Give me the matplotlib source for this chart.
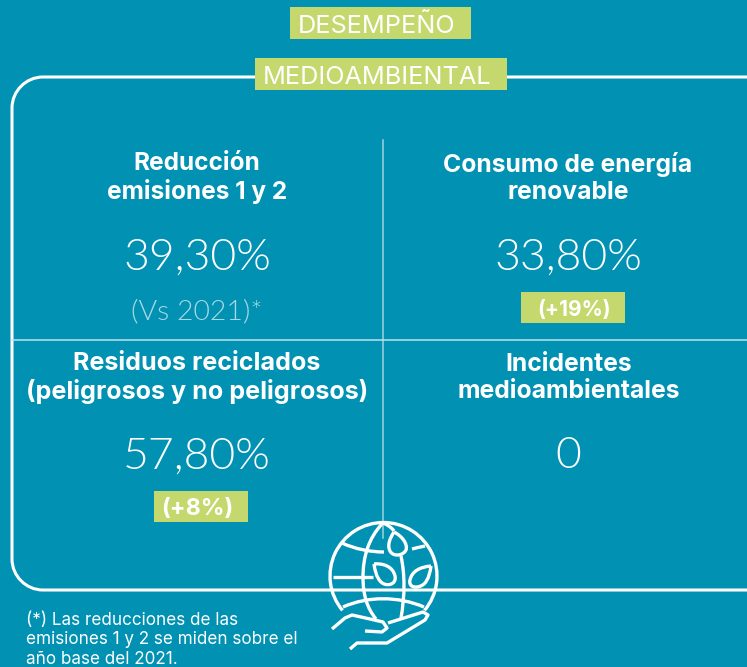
import matplotlib
matplotlib.use("Agg")
import matplotlib.pyplot as plt
from matplotlib.patches import Rectangle, Arc, PathPatch
from matplotlib.path import Path

BG = "#0091B3"
GREEN = "#C5D86D"
WHITE = "white"

title_top = "DESEMPEÑO"
title_sub = "MEDIOAMBIENTAL"
headings = ["Reducción\nemisiones 1 y 2", "Consumo de energía\nrenovable",
            "Residuos reciclados\n(peligrosos y no peligrosos)", "Incidentes\nmedioambientales"]
values = ["39,30%", "33,80%", "57,80%", "0"]
changes = ["(Vs 2021)*", "(+19%)", "(+8%)", None]
note = "(*) Las reducciones de las\nemisiones 1 y 2 se miden sobre el\naño base del 2021."

fig = plt.figure(figsize=(7.47, 6.67), dpi=100, facecolor=BG)
ax = fig.add_axes([0, 0, 1, 1])
ax.set_xlim(0, 747); ax.set_ylim(667, 0); ax.axis("off")

SANS = ["Inter", "DejaVu Sans"]
LIGHT = ["Lato", "DejaVu Sans"]

LW = 2.4
C4 = Path.CURVE4; M = Path.MOVETO; L = Path.LINETO
def curve(pts, codes=None, lw=LW, z=5):
    if codes is None:
        codes = [M] + [L] * (len(pts) - 1)
    ax.add_patch(PathPatch(Path(pts, codes), fc="none", ec=WHITE, lw=lw, capstyle="butt", joinstyle="round", zorder=z))

# frame, running off the right edge of the picture
curve([(760, 77), (43, 77), (26, 77), (12, 91), (12, 108), (12, 559), (12, 576), (26, 590), (43, 590), (760, 590)],
      [M, L, C4, C4, C4, L, C4, C4, C4, L], lw=2.2, z=2)

ax.plot([383, 383], [140, 538], color="#9FD3E0", lw=1.1, zorder=2)
ax.plot([12, 747], [340, 340], color="#BFE3EC", lw=1.1, zorder=2)

ax.add_patch(Rectangle((290, 7), 181, 32, fc=GREEN, ec="none", zorder=3))
ax.text(377, 26, title_top, color=WHITE, fontsize=18.2, ha="center", va="center", family=SANS, zorder=4)
ax.add_patch(Rectangle((255, 58), 252, 32, fc=GREEN, ec="none", zorder=3))
ax.text(377, 77, title_sub, color=WHITE, fontsize=18.2, ha="center", va="center", family=SANS, zorder=4)

hx = [197, 568, 197, 569]
hy = [178, 178, 378, 378]
vx = [197, 568, 197, 568]
vy = [258, 258, 457, 457]
fs = [17.6, 17.8, 18.1, 17.8]
for i in range(4):
    ax.text(hx[i], hy[i], headings[i], color=WHITE, fontsize=fs[i], fontweight="bold", ha="center", va="center",
            family=SANS, linespacing=1.22, zorder=4)
    ax.text(vx[i], vy[i], values[i], color=WHITE, fontsize=32, fontweight=300, ha="center", va="center",
            family=LIGHT, zorder=4)

ax.text(197, 312, changes[0], color="#A9D8E4", fontsize=20.5, ha="center", va="center",
        fontweight=300, family=LIGHT, zorder=4)
ax.add_patch(Rectangle((521, 292), 104, 31, fc=GREEN, ec="none", zorder=3))
ax.text(574, 310, changes[1], color=WHITE, fontsize=15, fontweight="bold", ha="center", va="center", family=SANS, zorder=4)
ax.add_patch(Rectangle((154, 491), 94, 31, fc=GREEN, ec="none", zorder=3))
ax.text(197, 509, changes[2], color=WHITE, fontsize=16.8, fontweight="bold", ha="center", va="center", family=SANS, zorder=4)

ax.text(26, 640, note, color=WHITE, fontsize=12.3, ha="left", va="center", family=SANS, linespacing=1.2, zorder=4)

ax.add_patch(Arc((383.5, 576), 107, 107, theta1=140, theta2=40, ec=WHITE, lw=LW, zorder=5))
# meridians
curve([(383, 523), (368, 538), (363, 558), (363, 577), (363, 595), (367, 608), (376, 619)], [M, C4, C4, C4, C4, C4, C4])
curve([(383, 523), (388, 525), (392, 528), (394, 531)], [M, C4, C4, C4])
curve([(401, 556), (405, 575), (405, 595), (401, 618)], [M, C4, C4, C4])
# parallels
curve([(342, 543), (355, 549), (370, 552), (384, 552)], [M, C4, C4, C4])
curve([(412, 549), (416, 548), (420, 547), (425, 546)], [M, C4, C4, C4])
curve([(333, 577), (373, 577)])
curve([(343, 607), (368, 596), (398, 596), (424, 607)], [M, C4, C4, C4])
# leaves
curve([(394, 532), (402, 536), (408, 544), (406, 550), (403, 556), (393, 557), (390, 551), (387, 545), (390, 538), (394, 532)],
      [M, C4, C4, C4, C4, C4, C4, C4, C4, C4])
curve([(374, 564), (384, 563), (393, 567), (395, 576), (397, 585), (386, 587), (381, 582), (376, 577), (375, 570), (374, 564)],
      [M, C4, C4, C4, C4, C4, C4, C4, C4, C4])
curve([(431, 566), (420, 567), (412, 571), (410, 580), (408, 588), (418, 589), (424, 584), (429, 579), (430, 572), (431, 566)],
      [M, C4, C4, C4, C4, C4, C4, C4, C4, C4])
# hand
curve([(332, 629), (345, 618), (352, 615), (370, 619), (383, 622), (387, 628), (382, 632), (365, 631)])
curve([(388, 623), (423, 612), (428, 615), (425, 620), (387, 643), (357, 643), (350, 649)])

fig.savefig("out.png", dpi=100, facecolor=BG)
